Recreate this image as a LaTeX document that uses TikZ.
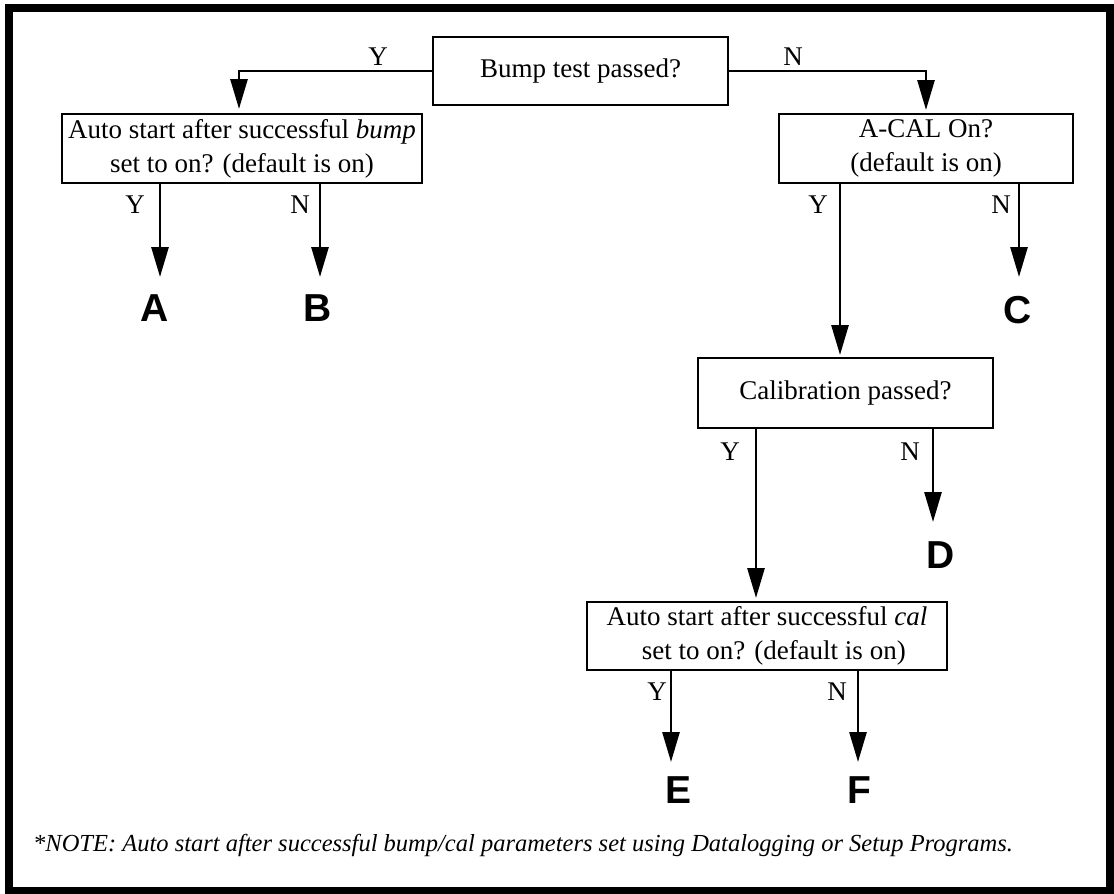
\documentclass[tikz,border=0pt]{standalone}
\usepackage{fontspec}
\setmainfont{Liberation Serif}
\newfontfamily\letterfont{Liberation Sans}
\usetikzlibrary{arrows.meta}
\begin{document}
\begin{tikzpicture}[x=1pt,y=-1pt,
  box/.style={draw,line width=1.6pt,inner sep=0pt,align=center,
    font=\fontsize{27}{34}\selectfont},
  conn/.style={line width=2.8pt,-{Triangle[width=17pt,length=30pt]}},
  yn/.style={inner sep=0pt,font=\fontsize{27}{32}\selectfont},
  big/.style={inner sep=0pt,font=\letterfont\bfseries\fontsize{39}{44}\selectfont}]
\useasboundingbox (0,0) rectangle (1114,894);
\draw[line width=8pt] (9,8) rectangle (1110,891);

% boxes
\node[box,minimum width=295pt,minimum height=68pt] (bump) at (580.5,71) {Bump test passed?};
\node[box,minimum width=360pt,minimum height=69pt] (auto1) at (242,148.5)
  {Auto start after successful \textit{bump}\\set to on? (default is on)};
\node[box,minimum width=294pt,minimum height=69pt] (acal) at (926,148.5)
  {A-CAL On?\\(default is on)};
\node[box,minimum width=295pt,minimum height=70pt] (cal) at (845.5,393) {Calibration passed?};
\node[box,minimum width=360pt,minimum height=68pt] (auto2) at (767,636)
  {Auto start after successful \textit{cal}\\\ \ set to on? (default is on)};

% tip coordinates
\coordinate (t1) at (239,109);
\coordinate (t2) at (926,110);
\coordinate (tA) at (160,277);
\coordinate (tB) at (320,277);
\coordinate (tCal) at (840,355);
\coordinate (tC) at (1019,277);
\coordinate (tAuto2) at (756,598);
\coordinate (tD) at (933,522);
\coordinate (tE) at (671,762);
\coordinate (tF) at (858,762);

% connectors
\draw[conn] (bump.west) -| (t1);
\draw[conn] (bump.east) -| (t2);
\draw[conn] (auto1.south -| tA) -- (tA);
\draw[conn] (auto1.south -| tB) -- (tB);
\draw[conn] (acal.south -| tCal) -- (tCal);
\draw[conn] (acal.south -| tC) -- (tC);
\draw[conn] (cal.south -| tAuto2) -- (tAuto2);
\draw[conn] (cal.south -| tD) -- (tD);
\draw[conn] (auto2.south -| tE) -- (tE);
\draw[conn] (auto2.south -| tF) -- (tF);

% Y / N labels
\node[yn] (l1) at (378,57) {Y};
\node[yn] (l2) at (793,57) {N};
\node[yn] (l3) at (135,205) {Y};
\node[yn] (l4) at (300,205) {N};
\node[yn] (l5) at (818,205) {Y};
\node[yn] (l6) at (1001,205) {N};
\node[yn] (l7) at (730,452) {Y};
\node[yn] (l8) at (910,452) {N};
\node[yn] (l9) at (657,692) {Y};
\node[yn] (l10) at (837,692) {N};

% outcome letters
\node[big] (A) at (155,308) {A};
\node[big] (B) at (318,308) {B};
\node[big] (C) at (1018,310) {C};
\node[big] (D) at (941,555) {D};
\node[big] (E) at (678,790) {E};
\node[big] (F) at (859,790) {F};

% note
\node[anchor=west,inner sep=0pt,font=\itshape\fontsize{24.5}{28}\selectfont] (note) at (33,845)
  {*NOTE: Auto start after successful bump/cal parameters set using Datalogging or Setup Programs.};
\end{tikzpicture}
\end{document}
